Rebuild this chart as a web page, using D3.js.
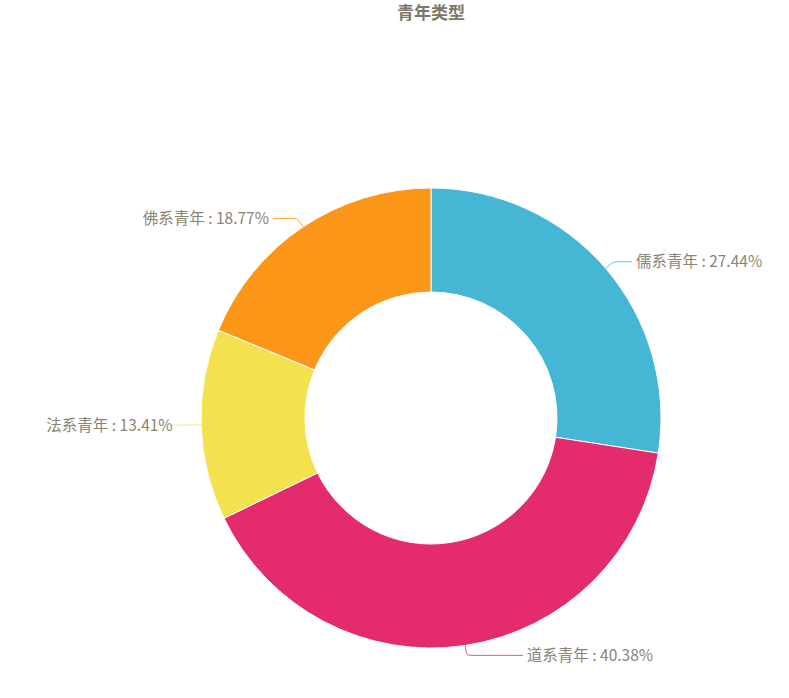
<!DOCTYPE html>
<html><head><meta charset="utf-8">
<script src="https://cdn.jsdelivr.net/npm/d3@7"></script>
<style>body{margin:0;background:#fff}svg{display:block}</style>
</head><body>
<svg id="c" width="789" height="698"></svg>
<script>
const title = "青年类型";
const categories = ["儒系青年", "道系青年", "法系青年", "佛系青年"];
const values = [27.44, 40.38, 13.41, 18.77];
const colors = ["#45b6d3", "#e32b6e", "#f3e14f", "#fc9619"];

const W = 789, H = 698, cx = 431, cy = 418, R = 230, r0 = 126;
const svg = d3.select("#c");
const font = "'Microsoft YaHei','Noto Sans CJK SC',sans-serif";
const textColor = "#8a8473";

svg.append("text").attr("x", 431).attr("y", 19).attr("text-anchor", "middle")
  .attr("font-family", font).attr("font-weight", "bold").attr("font-size", 17)
  .attr("fill", "#7d7767").text(title);

const data = categories.map((c, i) => ({name: c, value: values[i], color: colors[i]}));
const pie = d3.pie().value(d => d.value).sort(null);
const arcs = pie(data);
const arc = d3.arc().innerRadius(r0).outerRadius(R);
const g = svg.append("g").attr("transform", `translate(${cx},${cy})`);
g.selectAll("path.s").data(arcs).join("path").attr("class", "s")
  .attr("d", arc).attr("fill", d => d.data.color)
  .attr("stroke", "#fff").attr("stroke-width", 1);

const L1 = 10, RL = 254.5;
arcs.forEach(a => {
  const m = (a.startAngle + a.endAngle) / 2;
  const sx = Math.sin(m), sy = -Math.cos(m);
  const p1 = [sx * R, sy * R];
  const p2 = [sx * (R + L1), sy * (R + L1)];
  const dir = sx >= 0 ? 1 : -1;
  const ex = dir * Math.sqrt(Math.max(RL * RL - p2[1] * p2[1], 0));
  const p3 = [ex, p2[1]];
  const line = d3.line().curve(d3.curveBasis);
  g.append("path").attr("d", line([p1, p2, [p2[0] + dir * 3, p2[1]], p3]))
    .attr("fill", "none").attr("stroke", a.data.color).attr("stroke-opacity", 0.85)
    .attr("stroke-width", 1);
  g.append("text").attr("x", ex + dir * 4).attr("y", p2[1])
    .attr("dy", "0.36em").attr("text-anchor", dir > 0 ? "start" : "end")
    .attr("font-family", font).attr("font-size", 15.5).attr("fill", textColor)
    .text(`${a.data.name} : ${a.data.value.toFixed(2)}%`);
});
</script>
</body></html>
